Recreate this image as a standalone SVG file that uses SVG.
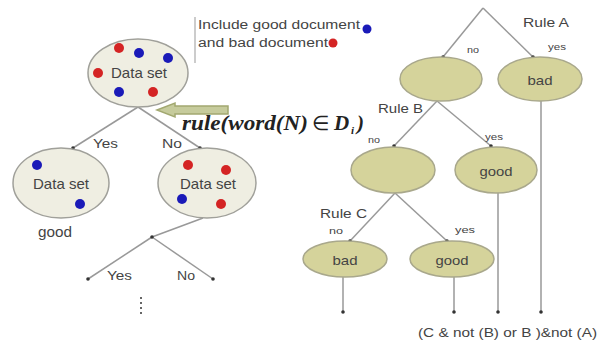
<svg xmlns="http://www.w3.org/2000/svg" width="600" height="344" viewBox="0 0 600 344">
<style>
text{font-family:"Liberation Sans",Arial,sans-serif;fill:#444}
.ds{fill:#efeee2;stroke:#a0a09a;stroke-width:1.5}
.rn{fill:#d5d39b;stroke:#a9a88c;stroke-width:1.5}
.ln{stroke:#999;stroke-width:1.5;fill:none}
.r{fill:#d42424}
.b{fill:#1a1ab8}
.pt{fill:#333}
.lbl{font-size:13px}
.sm{font-size:9px}
.fx{font-family:"Liberation Serif","Times New Roman",serif;font-style:italic;font-weight:bold;font-size:21px;fill:#222}
</style>
<rect width="600" height="344" fill="#fff"/>
<g id="connectors">
<line class="ln" x1="138" y1="107" x2="73" y2="148"/>
<line class="ln" x1="138" y1="107" x2="200" y2="148"/>
<line class="ln" x1="203" y1="218" x2="152" y2="237"/>
<line class="ln" x1="152" y1="237" x2="88" y2="279"/>
<line class="ln" x1="152" y1="237" x2="213" y2="279"/>
<line class="ln" x1="483" y1="8" x2="443" y2="57"/>
<line class="ln" x1="483" y1="8" x2="533" y2="57"/>
<line class="ln" x1="437" y1="101" x2="394" y2="146"/>
<line class="ln" x1="437" y1="101" x2="491" y2="146"/>
<line class="ln" x1="395" y1="193" x2="350" y2="241"/>
<line class="ln" x1="395" y1="193" x2="447" y2="241"/>
<line class="ln" x1="541" y1="101" x2="541" y2="312"/>
<line class="ln" x1="498" y1="193" x2="498" y2="312"/>
<line class="ln" x1="343" y1="277" x2="343" y2="312"/>
<line class="ln" x1="454" y1="277" x2="454" y2="312"/>
<g class="pt">
<circle cx="73" cy="148" r="1.8"/><circle cx="200" cy="148" r="1.8"/>
<circle cx="152" cy="237" r="1.8"/><circle cx="88" cy="279" r="1.8"/><circle cx="213" cy="279" r="1.8"/>
<circle cx="443" cy="57" r="1.8"/><circle cx="533" cy="57" r="1.8"/>
<circle cx="394" cy="146" r="1.8"/><circle cx="491" cy="146" r="1.8"/>
<circle cx="350" cy="241" r="1.8"/><circle cx="447" cy="241" r="1.8"/>
<circle cx="541" cy="312" r="1.8"/><circle cx="498" cy="312" r="1.8"/><circle cx="343" cy="312" r="1.8"/><circle cx="454" cy="312" r="1.8"/>
<circle cx="141" cy="298" r="1"/><circle cx="141" cy="303" r="1"/><circle cx="141" cy="308" r="1"/><circle cx="141" cy="313" r="1"/>
</g>
<text class="lbl" x="93" y="148" textLength="25" lengthAdjust="spacingAndGlyphs">Yes</text>
<text class="lbl" x="162" y="148" textLength="20" lengthAdjust="spacingAndGlyphs">No</text>
<text class="lbl" x="107" y="280" textLength="25" lengthAdjust="spacingAndGlyphs">Yes</text>
<text class="lbl" x="177" y="280" textLength="18" lengthAdjust="spacingAndGlyphs">No</text>
<text class="lbl" x="523" y="27" textLength="46" lengthAdjust="spacingAndGlyphs">Rule A</text>
<text class="sm" x="467" y="53" textLength="12" lengthAdjust="spacingAndGlyphs">no</text>
<text class="sm" x="548" y="50" textLength="18" lengthAdjust="spacingAndGlyphs">yes</text>
<text class="lbl" x="378" y="113" textLength="45" lengthAdjust="spacingAndGlyphs">Rule B</text>
<text class="sm" x="368" y="143" textLength="12" lengthAdjust="spacingAndGlyphs">no</text>
<text class="sm" x="485" y="140" textLength="18" lengthAdjust="spacingAndGlyphs">yes</text>
<text class="lbl" x="320" y="218" textLength="47" lengthAdjust="spacingAndGlyphs">Rule C</text>
<text class="sm" x="329" y="234" textLength="14" lengthAdjust="spacingAndGlyphs">no</text>
<text class="sm" x="455" y="233" textLength="20" lengthAdjust="spacingAndGlyphs">yes</text>
</g>
<g id="n-root">
<ellipse class="ds" cx="138" cy="73" rx="50" ry="34"/>
<circle class="r" cx="119" cy="48" r="5"/><circle class="b" cx="139" cy="53" r="5"/><circle class="b" cx="168" cy="58" r="5"/>
<circle class="r" cx="98" cy="73" r="5"/><circle class="b" cx="119" cy="92" r="5"/><circle class="r" cx="153" cy="92" r="5"/>
<text class="lbl" x="139" y="78" text-anchor="middle" textLength="56" lengthAdjust="spacingAndGlyphs" style="font-size:15px">Data set</text>
</g>
<g id="n-legend">
<line x1="195" y1="17" x2="195" y2="63" stroke="#bbb" stroke-width="1.5"/>
<text x="198" y="29" style="font-size:12px" textLength="162" lengthAdjust="spacingAndGlyphs">Include good document</text>
<text x="198" y="47" style="font-size:12px" textLength="130" lengthAdjust="spacingAndGlyphs">and bad document</text>
<circle class="b" cx="367" cy="29" r="4.5"/>
<circle class="r" cx="333" cy="43" r="4.5"/>
</g>
<g id="n-arrow">
<path d="M157,110 L175,103 L175,106 L228,106 L228,114 L175,114 L175,117 Z" fill="#c6cb9c" stroke="#a2a870" stroke-width="1.5"/>
</g>
<g id="n-formula">
<text class="fx" x="182" y="130" textLength="126" lengthAdjust="spacingAndGlyphs">rule(word(N)</text>
<text class="fx" x="312" y="130" style="font-style:normal;font-weight:normal;font-size:20px">∈</text>
<text class="fx" x="334" y="130">D</text>
<text class="fx" x="351" y="134" style="font-size:11px">i</text>
<text class="fx" x="357" y="130">)</text>
</g>
<g id="n-yes">
<ellipse class="ds" cx="61" cy="183" rx="48" ry="35"/>
<circle class="b" cx="37" cy="165" r="5"/><circle class="b" cx="80" cy="204" r="5"/>
<text class="lbl" x="61" y="189" text-anchor="middle" textLength="56" lengthAdjust="spacingAndGlyphs" style="font-size:15px">Data set</text>
<text class="lbl" x="38" y="237" textLength="34" lengthAdjust="spacingAndGlyphs" style="font-size:14px">good</text>
</g>
<g id="n-no">
<ellipse class="ds" cx="207" cy="183" rx="49" ry="35"/>
<circle class="r" cx="188" cy="165" r="5"/><circle class="r" cx="226" cy="170" r="5"/>
<circle class="b" cx="182" cy="199" r="5"/><circle class="r" cx="221" cy="204" r="5"/>
<text class="lbl" x="208" y="189" text-anchor="middle" textLength="56" lengthAdjust="spacingAndGlyphs" style="font-size:15px">Data set</text>
</g>
<g id="n-a-no"><ellipse class="rn" cx="441" cy="79" rx="41" ry="22"/></g>
<g id="n-a-yes"><ellipse class="rn" cx="540" cy="79" rx="42" ry="22"/>
<text class="lbl" x="540" y="85" text-anchor="middle" textLength="25" lengthAdjust="spacingAndGlyphs">bad</text></g>
<g id="n-b-no"><ellipse class="rn" cx="393" cy="170" rx="42" ry="23"/></g>
<g id="n-b-yes"><ellipse class="rn" cx="496" cy="170" rx="41" ry="23"/>
<text class="lbl" x="496" y="176" text-anchor="middle" textLength="33" lengthAdjust="spacingAndGlyphs">good</text></g>
<g id="n-c-no"><ellipse class="rn" cx="345" cy="259" rx="42" ry="18"/>
<text class="lbl" x="345" y="265" text-anchor="middle" textLength="25" lengthAdjust="spacingAndGlyphs">bad</text></g>
<g id="n-c-yes"><ellipse class="rn" cx="452" cy="259" rx="42" ry="18"/>
<text class="lbl" x="452" y="265" text-anchor="middle" textLength="33" lengthAdjust="spacingAndGlyphs">good</text></g>
<g id="n-result">
<text x="418" y="337" style="font-size:13px" textLength="179" lengthAdjust="spacingAndGlyphs">(C &amp; not (B) or B )&amp;not (A)</text>
</g>
</svg>
